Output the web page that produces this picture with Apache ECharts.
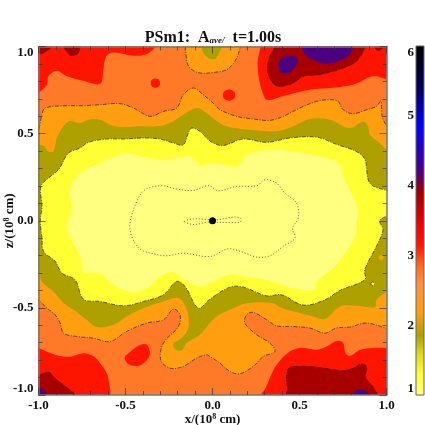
<!DOCTYPE html>
<html>
<head>
<meta charset="utf-8">
<style>html,body{margin:0;padding:0;background:#fff}#main{width:425px;height:425px}</style>
<script src="https://cdn.jsdelivr.net/npm/echarts@6/dist/echarts.min.js"></script>
</head>
<body>
<div id="main"></div>
<script>
// contour outlines, [x, z] in hundredths of 10^8 cm
var redTopLeft = [[-103,72],[-100,73.3],[-95.2,78],[-94.3,82.9],[-89.5,86.1],[-83.7,82.9],[-74.2,80.4],[-64.6,78.6],[-62.7,86.7],[-61.2,94.3],[-56.9,96.6],[-45.5,94.7],[-37.8,95.7],[-32.5,100],[-31,104],[-103,104]];
var redSpotA = [[-35.5,79],[-34.7,81],[-32.8,81.7],[-30.9,81],[-30.1,79],[-30.9,77],[-32.8,76.3],[-34.7,77]];
var redSpotB = [[5.9,72.1],[7,74.4],[9.5,75.3],[12,74.4],[13.1,72.1],[12,69.8],[9.5,68.9],[7,69.8]];
var redTopRight = [[27.6,104],[27.6,100],[25.9,90.5],[27.2,79],[30.1,70.4],[32.6,69.1],[38.7,71],[56,75.2],[67.4,76.2],[80.8,78.1],[92.3,82.9],[100,81.3],[104,81],[104,104]];
var redBottomLeft = [[-103,-72],[-100,-73],[-90,-77],[-82,-78],[-74,-76],[-68,-78],[-63,-84],[-60,-90],[-60.5,-104],[-103,-104]];
var redBottomMid = [[-50.5,-78.5],[-47,-75],[-42,-71.5],[-38,-71],[-36,-75],[-37,-79],[-42,-83],[-48,-82.5]];
var redBottomRight = [[27,-104],[31,-95],[36,-84],[43,-76],[50,-73],[60,-74],[66,-72],[71,-69],[75,-70],[76.5,-76],[79,-77.5],[85,-74],[92,-73],[100,-73],[104,-73],[104,-104]];
var darkTopLeft = [[-103,95],[-100,95.3],[-96,97],[-92.3,100],[-91,104],[-103,104]];
var darkTopBlob = [[-85.5,104],[-85,99],[-82.5,95.5],[-80,94.7],[-77,96.5],[-76,100],[-75.5,104]];
var darkTopMain = [[35.9,104],[35.9,100],[32.6,93.4],[31.5,86.7],[33.9,80],[37.8,77.1],[46.4,79],[52.1,82.9],[61.7,83.8],[75,87.6],[82.7,91.5],[87.5,99.1],[88,104]];
var darkTopCorner = [[92,104],[93,100],[95.5,97.5],[98,100],[99,104]];
var darkBottomLeft = [[-103,-88],[-100,-88.5],[-94,-87],[-91,-90],[-86,-94],[-82,-97],[-79,-100],[-78,-104],[-103,-104]];
var darkBottomRight = [[43,-104],[43,-96],[42.5,-90],[44,-84.5],[50,-83.5],[60,-84],[70,-85.5],[76,-86],[82,-84],[86,-82],[88.5,-84],[88,-90],[92,-95],[95,-100],[96,-104]];
var purpleSpot = [[37.8,89.6],[39.7,93.4],[44.5,94.7],[48.9,93.4],[47.9,88.6],[43.5,84.8],[38.7,85.7]];
var purpleTop = [[51.2,104],[51.2,100],[53.1,95.3],[59.8,91.5],[65.5,90.1],[72.2,91.5],[78.9,95.3],[80.8,100],[81,104]];
var purpleBottomLeft = [[-103,-95],[-99,-96],[-96,-98],[-94.5,-101],[-94,-104],[-103,-104]];
var purpleBottomRight = [[79,-104],[80,-100],[82,-97.5],[85,-96.5],[88,-97.5],[90,-100],[91,-104]];
var orangeMain = [[-103,50],[-100,52],[-99.4,54.2],[-98.1,60.8],[-96.2,64.7],[-83.7,66],[-74.2,66],[-64.6,66.6],[-53.1,67.2],[-45.5,64.7],[-35.9,59.9],[-28.2,62.8],[-20.6,64.7],[-16.8,72.3],[-11,76.2],[-5.3,72.3],[1.4,66.6],[4.3,63.7],[13.9,59.9],[23.4,58.4],[33,57.6],[40.6,59.9],[50.2,64.7],[59.8,68.5],[67.4,69.5],[72.2,68.5],[75.1,63.7],[80.8,61.4],[88.5,63.7],[94.2,65.6],[96.7,68.5],[97.5,59.9],[100,54.5],[104,50],[104,-62],[100,-61.6],[88.5,-58.7],[78.9,-61],[71.2,-61.6],[64.6,-64.5],[56,-61.6],[46.4,-60.7],[36.8,-60.3],[31.1,-56.8],[23.4,-52.6],[19.6,-54],[18.6,-58.7],[25.3,-65.4],[33,-70.2],[35.9,-75],[29.2,-77.9],[23.4,-83.6],[15.8,-87.8],[10,-86.5],[4.3,-81.7],[-1.5,-77.9],[-3.4,-76.9],[-9.1,-78.8],[-16.8,-83.6],[-24.4,-84.6],[-29.8,-79.8],[-28.2,-70.2],[-19.6,-60.7],[-18.7,-54],[-22.5,-50.7],[-28.2,-56.9],[-37.8,-58.7],[-49.3,-63.5],[-58.9,-69.3],[-68.4,-67.4],[-78,-66.4],[-85.6,-64.5],[-87.6,-58.7],[-90.4,-54],[-95.2,-50.1],[-100,-45.4],[-103,-43]];
var orangeTop = [[-14,104],[-14.9,92.4],[-12.9,87.6],[-7.2,84.8],[1.4,85.2],[8.1,86.7],[12.9,91.5],[16.1,100],[16.5,104]];
var oliveTop = [[-6.2,104],[-6.2,100],[-5.3,96.2],[-2.4,93.4],[1.4,92.8],[3.3,95.3],[5.2,100],[5.2,104]];
var oliveMain = [[-103,42.7],[-97.1,43.1],[-94.3,39.8],[-91.4,39.8],[-89.1,48.4],[-82.8,57],[-76.1,56.1],[-71.3,58],[-64.6,58],[-58.9,55.1],[-53.1,53.8],[-41.6,54.2],[-32.1,54.2],[-24.4,56.1],[-16.8,60.8],[-9.1,64.7],[-3.4,61.8],[1.4,58],[8.1,54.2],[21.5,52.2],[36.8,51.3],[46.4,54.2],[55.9,58.4],[67.4,58],[78.9,53.2],[86.6,57],[89.4,54.2],[90.4,49.4],[96.1,44.6],[100,40.4],[104,36],[104,-38],[100,-40.6],[94.2,-45.4],[93.3,-49.6],[82.7,-48.8],[73.2,-49.2],[64.6,-56.4],[57.9,-54.9],[50.2,-53],[39.7,-50.1],[34.9,-47.3],[19.6,-47.3],[10,-51.1],[2.4,-54.9],[-1.5,-58.7],[-7.2,-65.4],[-14.8,-70.2],[-17.7,-74.4],[-21.5,-73.7],[-22.5,-70.6],[-16.8,-66.4],[-13.7,-60.7],[-14.8,-51.1],[-19.6,-44.4],[-28.2,-46.3],[-39.7,-50.1],[-49.3,-54.9],[-56.9,-59.7],[-66.5,-61],[-72.3,-56.8],[-79.9,-51.1],[-85.6,-47.3],[-91.4,-40.6],[-98.1,-34.8],[-100,-27.2],[-103,-26]];
var orangeSpot = [[95.4,-21.2],[96.9,-19.7],[98.4,-21.2],[96.9,-22.7]];
var yellowMain = [[-98,-10],[-99,0],[-98,8],[-98.7,19.7],[-94.3,24.5],[-88.5,29.3],[-82.8,38.8],[-76.1,41.7],[-71.3,45],[-60.8,46.9],[-51.2,46.9],[-39.7,47.5],[-30.2,46.9],[-22.5,44.6],[-16.8,43.6],[-13.9,50.3],[-12,53.2],[-7.2,51.3],[-2.4,46.5],[1.4,44.2],[6.2,43.1],[17.7,46.9],[31.1,45],[44.5,47.5],[59.8,48],[69.3,44.6],[86.5,36.9],[90.4,21.6],[100,17.4],[104,17],[104,3],[100,2.5],[96.1,0],[98,-5.2],[94.2,-14.7],[87.5,-28.1],[87.5,-33.9],[73.2,-40],[64.6,-45.4],[52.1,-48.4],[39.7,-42.5],[31.1,-43.1],[17.7,-38.1],[10,-38.1],[-1.5,-45],[-8.2,-50.1],[-15.8,-37.7],[-20.6,-34.8],[-28.2,-42.5],[-39.7,-46.3],[-51.2,-48.8],[-64.6,-46.3],[-74.2,-45],[-79,-33.9],[-86.6,-30],[-90.4,-23.3],[-97.1,-17.6]];
var yellowSpot = [[91,-36.2],[92.1,-35.1],[93.2,-36.2],[92.1,-37.3]];
var paleMain = [[-82.8,0],[-80.9,6.3],[-81.8,17.8],[-76.1,27.4],[-64.6,33.1],[-50.2,38.8],[-39.7,36.5],[-26.3,35],[-12.9,36.9],[-7.2,32.1],[1.4,33.1],[13.9,31.2],[19.6,37.9],[31.1,40.8],[46.4,39.8],[61.7,36.9],[72.2,33.1],[75.1,25.4],[83.7,6.3],[82.7,-1.3],[82.7,-7.1],[77,-17.6],[69.3,-27.2],[59.8,-34.8],[58.8,-39.6],[46.4,-38.7],[31.1,-33.9],[17.7,-32],[10,-31],[-1.5,-35.8],[-7.2,-37.7],[-14.8,-34.8],[-22.5,-29.7],[-30.2,-32],[-37.8,-38.7],[-45.5,-41.1],[-57,-36.7],[-64.6,-30],[-74.2,-29.1],[-76.1,-20.5],[-79.9,-12.8],[-83.7,-4.2]];
var dottedOuter = [[-47.4,-1.3],[-43.5,11.1],[-38.8,17.8],[-29.2,20.1],[-20.5,18.2],[-11,17.4],[-2.4,20.1],[3.4,17.2],[13.9,19.7],[25.4,20.1],[30.1,23.5],[36.8,21.6],[41.6,15.9],[48.3,10.1],[49.3,1.5],[46,-4.2],[47.4,-9.9],[40.6,-14.7],[33,-20.1],[25.4,-20.8],[17.7,-18.2],[9.1,-16.1],[-1.4,-20.5],[-16.8,-18.6],[-26.3,-20.1],[-34,-18.9],[-41.6,-16.3],[-46.4,-9]];
var dottedInner = [[-16.2,-0.4],[-11,1.1],[-2.4,0.6],[3.4,0.6],[12.1,2.1],[16.4,1.3],[15.8,-0.8],[10,-1],[3.4,-0.9],[-2.4,-0.8],[-11,-2.1]];
var centerPoint = [[0, 0]];

var barLevels = [1, 1.3, 1.6, 1.85, 2.2, 2.6, 2.85, 3.15, 3.5, 3.9, 4.2, 4.85, 5.4, 6];
var barColors = ['#ffff80', '#ffff33', '#dcd820', '#ada000', '#ff9f10', '#ff9040', '#ff6a20', '#ff1400', '#e80000', '#a00000', '#4b0082', '#0000ff', '#00005a', '#000000'];

var dashLine = [4, 1.5, 1, 1.5];
var dotLine = [1, 2];

function contour(points, fill, dash) {
	return {
		type: 'custom',
		coordinateSystem: 'cartesian2d',
		clip: true,
		silent: true,
		data: [0],
		renderItem: function (params, api) {
			var pts = points.map(function (p) {
				return api.coord([p[0] / 100, p[1] / 100]);
			});
			return {
				type: 'polygon',
				shape: { points: pts, smooth: 0.35 },
				style: {
					fill: fill || 'none',
					stroke: dash ? '#222' : 'none',
					lineWidth: dash ? 0.7 : 0,
					lineDash: dash || null
				}
			};
		}
	};
}

var C_ORANGE_RED = '#ff7a28', C_RED = '#ff1400', C_DARK = '#a80000', C_PURPLE = '#4b0082';
var C_ORANGE = '#ff9f10', C_OLIVE = '#ada000', C_YELLOW = '#ffff33', C_PALE = '#ffff80';

var seriesList = [
	contour([[-104,-104],[104,-104],[104,104],[-104,104]], C_ORANGE_RED),
	contour(redTopLeft, C_RED),
	contour(redSpotA, C_RED),
	contour(redSpotB, C_RED),
	contour(redTopRight, C_RED),
	contour(redBottomLeft, C_RED),
	contour(redBottomMid, C_RED),
	contour(redBottomRight, C_RED),
	contour(darkTopLeft, C_DARK, dashLine),
	contour(darkTopBlob, C_DARK, dashLine),
	contour(darkTopMain, C_DARK, dashLine),
	contour(darkTopCorner, C_DARK, dashLine),
	contour(darkBottomLeft, C_DARK, dashLine),
	contour(darkBottomRight, C_DARK, dashLine),
	contour(purpleSpot, C_PURPLE),
	contour(purpleTop, C_PURPLE),
	contour(purpleBottomLeft, C_PURPLE),
	contour(purpleBottomRight, C_PURPLE),
	contour(orangeMain, C_ORANGE, dashLine),
	contour(orangeTop, C_ORANGE, dashLine),
	contour(oliveTop, C_OLIVE),
	contour(oliveMain, C_OLIVE),
	contour(orangeSpot, C_ORANGE),
	contour(yellowMain, C_YELLOW, dashLine),
	contour(yellowSpot, C_YELLOW, dashLine),
	contour(paleMain, C_PALE),
	contour(dottedOuter, null, dotLine),
	contour(dottedInner, null, dotLine),
	{
		type: 'scatter',
		data: centerPoint,
		symbolSize: 7,
		silent: true,
		itemStyle: { color: '#000', opacity: 1 },
		z: 5
	},
	// colour bar
	{
		type: 'custom',
		xAxisIndex: 2,
		yAxisIndex: 2,
		silent: true,
		data: [0],
		renderItem: function (params, api) {
			var lo = api.coord([0, barLevels[0]]);
			var hi = api.coord([1, barLevels[barLevels.length - 1]]);
			var stops = barLevels.map(function (v, i) {
				return { offset: (v - barLevels[0]) / (barLevels[barLevels.length - 1] - barLevels[0]), color: barColors[i] };
			});
			return {
				type: 'rect',
				shape: { x: lo[0], y: hi[1], width: hi[0] - lo[0], height: lo[1] - hi[1] },
				style: {
					fill: new echarts.graphic.LinearGradient(0, 1, 0, 0, stops),
					stroke: '#666',
					lineWidth: 1
				}
			};
		}
	}
];

var labelFont = { fontFamily: 'Liberation Serif', fontWeight: 'bold', color: '#111', fontSize: 13 };
var supRich = { n: labelFont, s: { fontFamily: 'Liberation Serif', fontWeight: 'bold', color: '#111', fontSize: 8, padding: [0, 0, 6, 0] } };

function frameAxis(pos, showLabel, name) {
	return {
		type: 'value',
		gridIndex: 0,
		position: pos,
		min: -1,
		max: 1,
		interval: 0.5,
		z: 6,
		name: name || '',
		nameLocation: 'middle',
		nameGap: pos == 'bottom' ? 18 : 22,
		nameMoveOverlap: false,
		nameTextStyle: { rich: supRich },
		axisLine: { show: true, onZero: false, lineStyle: { color: '#777', width: 1.5 } },
		axisTick: { show: true, inside: true, length: 7, lineStyle: { color: '#333', width: 0.7 } },
		minorTick: { show: true, splitNumber: 5, length: 4, lineStyle: { color: '#333', width: 0.7 } },
		splitLine: { show: false },
		axisLabel: {
			show: showLabel,
			fontFamily: 'Liberation Serif',
			fontWeight: 'bold',
			color: '#111',
			fontSize: 13,
			margin: 5,
			verticalAlignMinLabel: 'bottom',
			verticalAlignMaxLabel: 'top',
			formatter: function (value) {
				return value.toFixed(1);
			}
		}
	};
}

var xBottom = frameAxis('bottom', true, '{n|x/(10}{s|8}{n| cm)}');
var xTop = frameAxis('top', false);
var yLeft = frameAxis('left', true, '{n|z/(10}{s|8}{n| cm)}');
var yRight = frameAxis('right', false);
xBottom.axisLabel.verticalAlignMinLabel = null;
xBottom.axisLabel.verticalAlignMaxLabel = null;
xBottom.axisLabel.margin = 4;

var option = {
	backgroundColor: '#fff',
	animation: false,
	title: {
		text: '{n|PSm1:  A}{s|ave/}{n|  t=1.00s}',
		left: 208,
		top: 25,
		textAlign: 'center',
		textStyle: {
			rich: {
				n: { fontFamily: 'Liberation Serif', fontWeight: 'bold', fontSize: 16, color: '#111' },
				s: { fontFamily: 'Liberation Serif', fontWeight: 'bold', fontStyle: 'italic', fontSize: 9, color: '#111', padding: [6, 0, 0, 0] }
			}
		}
	},
	grid: [
		{ left: 38.5, top: 46.5, width: 348, height: 348.5, outerBoundsMode: 'none' },
		{ left: 416, top: 46, width: 8, height: 349, outerBoundsMode: 'none' }
	],
	xAxis: [
		xBottom,
		xTop,
		{ type: 'value', gridIndex: 1, min: 0, max: 1, show: false }
	],
	yAxis: [
		yLeft,
		yRight,
		{
			type: 'value',
			gridIndex: 1,
			min: 1,
			max: 6,
			interval: 1,
			axisLine: { show: false },
			axisTick: { show: false },
			splitLine: { show: false },
			axisLabel: {
				fontFamily: 'Liberation Serif',
				fontWeight: 'bold',
				color: '#111',
				fontSize: 13,
				margin: 2,
				verticalAlignMinLabel: 'bottom',
				verticalAlignMaxLabel: 'top'
			}
		}
	],
	series: seriesList
};

var dom = document.getElementById('main');
var myChart = echarts.init(dom);
myChart.setOption(option, true);
</script>
</body>
</html>
